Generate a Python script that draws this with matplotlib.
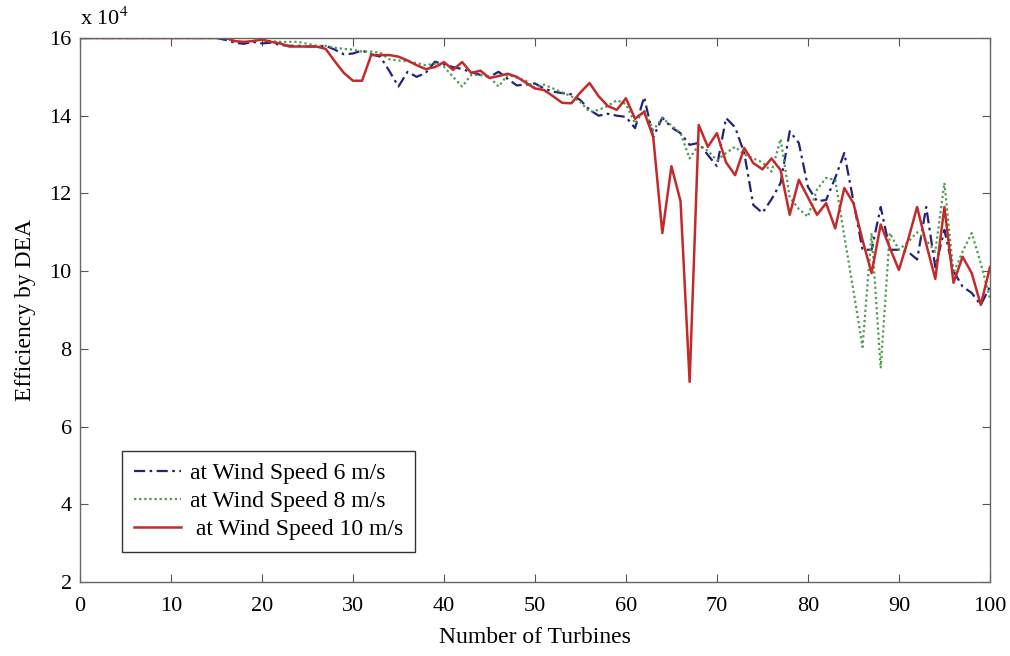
import numpy as np
import matplotlib
matplotlib.use('Agg')
import matplotlib.pyplot as plt

plt.rcParams.update({
    'font.family': 'serif', 'font.serif': ['Liberation Serif', 'DejaVu Serif'],
    'font.size': 16, 'xtick.direction': 'in', 'ytick.direction': 'in',
    'mathtext.fontset': 'stix',
})

# ── data (efficiency in units of 1e4) ─────────────────────────────────────────
turbines = np.arange(0, 101)

eff_6 = [16.0] * 16 + [
    15.95, 15.88, 15.85, 15.9, 15.86, 15.88, 15.82, 15.8, 15.8, 15.78,   # 16-25
    15.78, 15.8, 15.7, 15.58, 15.6, 15.68, 15.58, 15.52, 15.15, 14.75,   # 26-35
    15.13, 15.0, 15.1, 15.39, 15.32, 15.25, 15.2, 15.12, 15.05, 15.0,    # 36-45
    15.13, 14.95, 14.78, 14.8, 14.83, 14.7, 14.62, 14.58, 14.55, 14.4,   # 46-55
    14.15, 14.0, 14.05, 14.0, 13.97, 13.68, 14.48, 13.45, 13.95, 13.7,   # 56-65
    13.55, 13.25, 13.3, 12.99, 12.7, 13.94, 13.7, 13.04, 11.7, 11.5,     # 66-75
    11.85, 12.27, 13.6, 13.3, 12.17, 11.8, 11.83, 12.4, 13.04, 11.8,     # 76-85
    10.55, 10.55, 11.65, 10.55, 10.55, 10.5, 10.3, 11.65, 10.1, 11.06,   # 86-95
    10.0, 9.6, 9.44, 9.13, 9.6]                                          # 96-100

eff_8 = [16.0] * 20 + [
    15.95, 15.92, 15.9, 15.9, 15.9, 15.85, 15.8, 15.8, 15.75, 15.72,     # 20-29
    15.7, 15.65, 15.65, 15.62, 15.45, 15.42, 15.4, 15.35, 15.3, 15.34,   # 30-39
    15.26, 15.0, 14.75, 15.05, 15.05, 15.0, 14.75, 15.05, 14.98, 14.9,   # 40-49
    14.72, 14.8, 14.7, 14.6, 14.5, 14.35, 14.1, 14.15, 14.25, 14.4,      # 50-59
    14.3, 13.8, 14.15, 13.63, 13.94, 13.75, 13.55, 12.9, 13.25, 13.1,    # 60-69
    12.85, 13.04, 13.2, 13.0, 12.9, 12.8, 12.56, 13.4, 11.9, 11.6,       # 70-79
    11.4, 12.1, 12.4, 12.35, 10.9, 9.5, 8.05, 10.98, 7.5, 10.98,         # 80-89
    10.55, 10.75, 11.0, 10.8, 10.5, 12.27, 9.95, 10.5, 10.98, 10.2,      # 90-99
    9.3]                                                                 # 100

eff_10 = [16.0] * 17 + [
    15.92, 15.9, 15.92, 15.96, 15.9, 15.86, 15.78, 15.78, 15.78, 15.78,  # 17-26
    15.72, 15.4, 15.1, 14.9, 14.9, 15.56, 15.56, 15.56, 15.52, 15.42,    # 27-36
    15.3, 15.2, 15.25, 15.38, 15.18, 15.38, 15.1, 15.16, 14.97, 15.02,   # 37-46
    15.08, 15.0, 14.85, 14.7, 14.66, 14.5, 14.33, 14.32, 14.6, 14.84,    # 47-56
    14.5, 14.25, 14.15, 14.45, 13.92, 14.1, 13.45, 10.98, 12.7, 11.8,    # 57-66
    7.15, 13.76, 13.2, 13.55, 12.8, 12.47, 13.17, 12.78, 12.62, 12.9,    # 67-76
    12.6, 11.45, 12.35, 11.9, 11.45, 11.75, 11.1, 12.14, 11.75, 10.8,    # 77-86
    9.95, 11.2, 10.6, 10.03, 10.8, 11.65, 10.7, 9.8, 11.65, 9.7,         # 87-96
    10.37, 9.95, 9.13, 10.1]                                             # 97-100

x_ticks = list(range(0, 101, 10))
y_ticks = list(range(2, 17, 2))

# ── figure ────────────────────────────────────────────────────────────────────
fig = plt.figure(figsize=(10.1, 6.56), dpi=100)
ax = fig.add_axes([0.0792, 0.1128, 0.9009, 0.8293])

ax.plot(turbines, eff_6, color='#23237a', lw=1.6, ls=(0, (5, 2, 1.2, 2)),
        label='at Wind Speed 6 m/s')
ax.plot(turbines, eff_8, color='#4f9a4f', lw=1.6, ls=(0, (1, 1.3)),
        label='at Wind Speed 8 m/s')
ax.plot(turbines, eff_10, color='#c42a2a', lw=1.8,
        label=' at Wind Speed 10 m/s')

ax.set_xlim(0, 100); ax.set_ylim(2, 16)
ax.set_xticks(x_ticks); ax.set_yticks(y_ticks)
ax.tick_params(top=True, right=True, length=6, width=0.8, color='#555555',
               labelsize=16, pad=6)
ax.tick_params(axis='x', pad=11)
for sp in ax.spines.values():
    sp.set_color('#666666'); sp.set_linewidth(1.0)

ax.set_xlabel('Number of Turbines', fontsize=17, labelpad=8)
ax.set_ylabel('Efficiency by DEA', fontsize=17, labelpad=10)
ax.text(0, 16.2, r'x 10$^4$', fontsize=16, ha='left', va='bottom')

leg = ax.legend(loc='lower left', bbox_to_anchor=(0.046, 0.055), fontsize=17,
                fancybox=False, framealpha=1, edgecolor='#333333',
                handlelength=2.0, handletextpad=0.4, borderpad=0.5,
                labelspacing=0.28, borderaxespad=0)
leg.get_frame().set_linewidth(1.0)

fig.savefig('out.png', dpi=100, facecolor='white')
plt.close(fig)
